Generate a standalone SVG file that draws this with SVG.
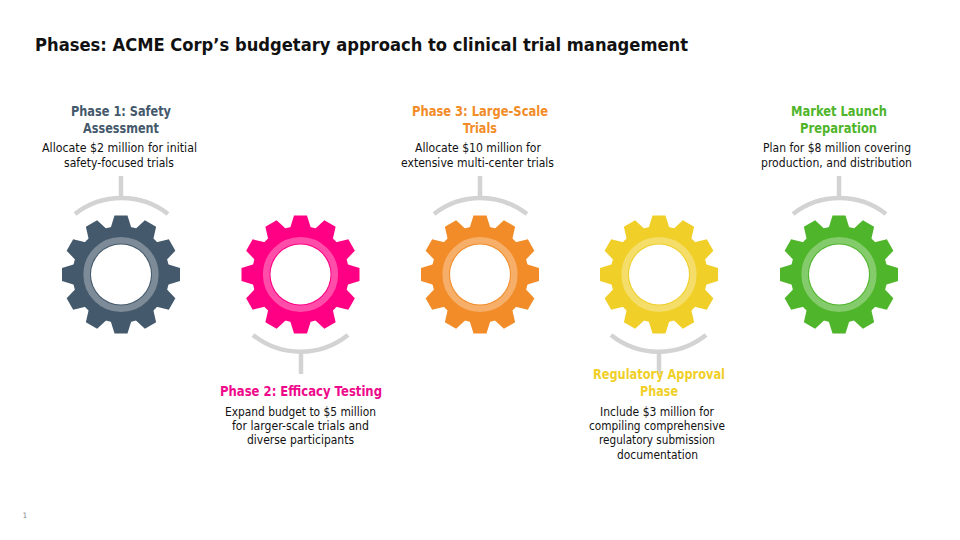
<svg xmlns="http://www.w3.org/2000/svg" width="960" height="540" viewBox="0 0 960 540">
<style>
text{font-family:"DejaVu Sans","Liberation Sans",sans-serif;text-anchor:middle}
.t{font-size:13.5px;font-weight:700}
.b{font-size:11.5px;fill:#111}
.c{fill:none;stroke:#d3d3d3;stroke-width:4.5}
.hole{fill:#fff}
.ring{fill:none;stroke:#fff;stroke-opacity:.3;stroke-width:6.600}
</style>
<defs>
<g id="gear">
<circle r="48.500"/>
<polygon id="tooth" points="-6.500,-59 6.500,-59 10.500,-46 10.500,46 6.500,59 -6.500,59 -10.500,46 -10.500,-46"/>
<use href="#tooth" transform="rotate(30)"/>
<use href="#tooth" transform="rotate(60)"/>
<use href="#tooth" transform="rotate(90)"/>
<use href="#tooth" transform="rotate(120)"/>
<use href="#tooth" transform="rotate(150)"/>
<circle class="hole" r="30"/>
<circle class="ring" r="34.300"/>
</g>
</defs>
<rect width="960" height="540" fill="#fff"/>
<text x="35" y="51" style="text-anchor:start;font-size:18px;font-weight:700" fill="#111" textLength="653" lengthAdjust="spacingAndGlyphs">Phases: ACME Corp’s budgetary approach to clinical trial management</text>
<g id="connectors">
<path class="c" d="M121 176V199"/><path class="c" d="M75 214A76 76 0 0 1 168 214"/>
<path class="c" d="M301 350V374"/><path class="c" d="M253 335A76 76 0 0 0 348 335"/>
<path class="c" d="M480 176V199"/><path class="c" d="M434 214A76 76 0 0 1 527 214"/>
<path class="c" d="M659 350V374"/><path class="c" d="M611 335A76 76 0 0 0 706 335"/>
<path class="c" d="M839 176V199"/><path class="c" d="M793 214A76 76 0 0 1 886 214"/>
</g>
<g id="phase1">
<use href="#gear" x="121" y="274.500" fill="#44596B"/>
<text class="t" fill="#44596B" x="121" y="116" textLength="100" lengthAdjust="spacingAndGlyphs">Phase 1: Safety</text>
<text class="t" fill="#44596B" x="121" y="133" textLength="76" lengthAdjust="spacingAndGlyphs">Assessment</text>
<text class="b" x="119.500" y="152" textLength="155" lengthAdjust="spacingAndGlyphs">Allocate $2 million for initial</text>
<text class="b" x="119" y="167" textLength="110" lengthAdjust="spacingAndGlyphs">safety-focused trials</text>
</g>
<g id="phase2">
<use href="#gear" x="300.500" y="274.500" fill="#FF0084"/>
<text class="t" fill="#EE0A8A" x="301" y="396" textLength="162" lengthAdjust="spacingAndGlyphs">Phase 2: Efficacy Testing</text>
<text class="b" x="300.500" y="416" textLength="151" lengthAdjust="spacingAndGlyphs">Expand budget to $5 million</text>
<text class="b" x="300.500" y="430" textLength="137" lengthAdjust="spacingAndGlyphs">for larger-scale trials and</text>
<text class="b" x="300.500" y="444" textLength="107" lengthAdjust="spacingAndGlyphs">diverse participants</text>
</g>
<g id="phase3">
<use href="#gear" x="480" y="274.500" fill="#F28C28"/>
<text class="t" fill="#F28C28" x="480" y="116" textLength="136" lengthAdjust="spacingAndGlyphs">Phase 3: Large-Scale</text>
<text class="t" fill="#F28C28" x="480" y="133" textLength="34" lengthAdjust="spacingAndGlyphs">Trials</text>
<text class="b" x="478" y="152" textLength="126" lengthAdjust="spacingAndGlyphs">Allocate $10 million for</text>
<text class="b" x="477.500" y="167" textLength="153" lengthAdjust="spacingAndGlyphs">extensive multi-center trials</text>
</g>
<g id="phase4">
<use href="#gear" x="659" y="274.500" fill="#F0CF28"/>
<text class="t" fill="#F0CF28" x="659" y="379" textLength="132" lengthAdjust="spacingAndGlyphs">Regulatory Approval</text>
<text class="t" fill="#F0CF28" x="659" y="396" textLength="38" lengthAdjust="spacingAndGlyphs">Phase</text>
<text class="b" x="657" y="416" textLength="114" lengthAdjust="spacingAndGlyphs">Include $3 million for</text>
<text class="b" x="657" y="430" textLength="136" lengthAdjust="spacingAndGlyphs">compiling comprehensive</text>
<text class="b" x="657" y="444" textLength="116" lengthAdjust="spacingAndGlyphs">regulatory submission</text>
<text class="b" x="657.500" y="459" textLength="81" lengthAdjust="spacingAndGlyphs">documentation</text>
</g>
<g id="phase5">
<use href="#gear" x="839" y="274.500" fill="#4FB52B"/>
<text class="t" fill="#4FB52B" x="839" y="116" textLength="96" lengthAdjust="spacingAndGlyphs">Market Launch</text>
<text class="t" fill="#4FB52B" x="838.500" y="133" textLength="77" lengthAdjust="spacingAndGlyphs">Preparation</text>
<text class="b" x="837" y="152" textLength="148" lengthAdjust="spacingAndGlyphs">Plan for $8 million covering</text>
<text class="b" x="836.500" y="167" textLength="151" lengthAdjust="spacingAndGlyphs">production, and distribution</text>
</g>
<text x="25" y="518" style="font-size:7.500px" fill="#8a8a8a">1</text>
</svg>
